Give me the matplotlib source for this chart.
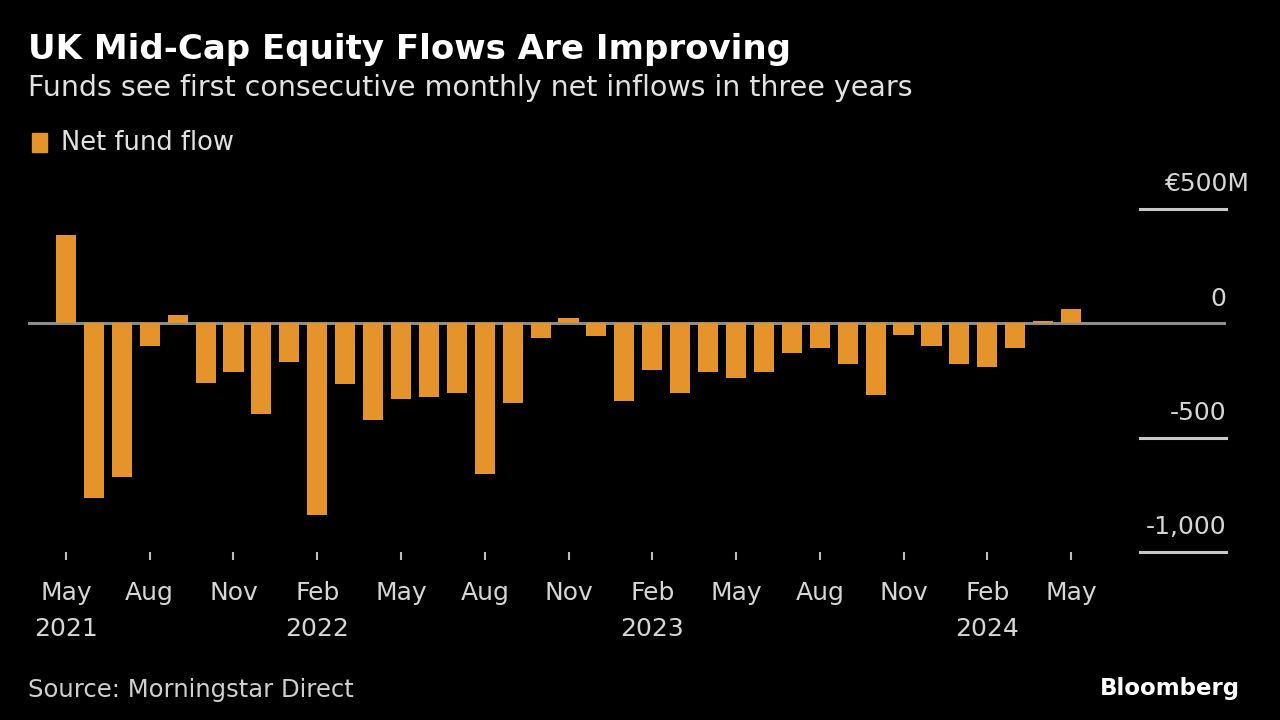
import matplotlib
matplotlib.use("Agg")
import matplotlib.pyplot as plt
import matplotlib.transforms as mtransforms

months = ["May 2021", "Jun 2021", "Jul 2021", "Aug 2021", "Sep 2021", "Oct 2021", "Nov 2021", "Dec 2021",
          "Jan 2022", "Feb 2022", "Mar 2022", "Apr 2022", "May 2022", "Jun 2022", "Jul 2022", "Aug 2022",
          "Sep 2022", "Oct 2022", "Nov 2022", "Dec 2022", "Jan 2023", "Feb 2023", "Mar 2023", "Apr 2023",
          "May 2023", "Jun 2023", "Jul 2023", "Aug 2023", "Sep 2023", "Oct 2023", "Nov 2023", "Dec 2023",
          "Jan 2024", "Feb 2024", "Mar 2024", "Apr 2024", "May 2024"]
net_flow = [385, -764, -673, -99, 38, -260, -215, -395,
            -168, -837, -265, -423, -331, -322, -306, -658,
            -348, -64, 22, -54, -341, -202, -303, -211,
            -241, -215, -132, -107, -176, -313, -51, -101,
            -178, -189, -107, 8, 61]
tick_idx = [0, 3, 6, 9, 12, 15, 18, 21, 24, 27, 30, 33, 36]
tick_labels = ["May\n2021", "Aug", "Nov", "Feb\n2022", "May", "Aug", "Nov", "Feb\n2023",
               "May", "Aug", "Nov", "Feb\n2024", "May"]
y_ticks = [500, 0, -500, -1000]
y_labels = ["€500M", "0", "-500", "-1,000"]

BG = "#000000"
BAR = "#E5942B"
plt.rcParams['font.family'] = ['DejaVu Sans']

fig = plt.figure(figsize=(12.8, 7.2), dpi=100, facecolor=BG)
W, H = 1280, 720
left, right, bottom_px, top_px = 28, 1226, 552, 186.1
ax = fig.add_axes([left / W, 1 - bottom_px / H, (right - left) / W, (bottom_px - top_px) / H])
ax.set_facecolor(BG)

x = list(range(len(months)))
ax.bar(x, net_flow, width=0.72, color=BAR, zorder=3)
ax.set_xlim(-1.36, 41.55)
ax.set_ylim(-1000, 600)

for s in ax.spines.values():
    s.set_visible(False)

# zero line across the plot
ax.axhline(0, color="#8c8c8c", lw=2.2, zorder=2)
# short gridline segments at right
trans = mtransforms.blended_transform_factory(ax.transAxes, ax.transData)
seg_x0 = (1140 - left) / (right - left)
for v, lab in zip(y_ticks, y_labels):
    if v != 0:
        ax.plot([seg_x0, 1.0], [v, v], transform=trans, color="#c8c8c8", lw=2.2, clip_on=False, zorder=2)
    xr = 1.0 if v != 500 else (1250 - left) / (right - left)
    ax.text(xr, v + 55, lab, transform=trans, ha="right", va="bottom", color="#d6d6d6",
            fontsize=18, clip_on=False)
ax.set_yticks([])

ax.set_xticks(tick_idx)
ax.set_xticklabels(tick_labels, color="#d6d6d6", fontsize=18, linespacing=1.6, va="top")
ax.tick_params(axis="x", length=6, width=1.5, color="#bdbdbd", pad=15)

fig.text(28 / W, 1 - 49 / H, "UK Mid-Cap Equity Flows Are Improving", color="white",
         fontsize=24.5, fontweight="bold", va="center", ha="left")
fig.text(28 / W, 1 - 88 / H, "Funds see first consecutive monthly net inflows in three years",
         color="#e2e2e2", fontsize=20.5, va="center", ha="left")
# legend
fig.patches.append(plt.Rectangle((32 / W, 1 - 152 / H), 15 / W, 19 / H, transform=fig.transFigure,
                                 color=BAR))
fig.text(61 / W, 1 - 143 / H, "Net fund flow", color="#e2e2e2", fontsize=18.5, va="center", ha="left")

fig.text(28 / W, 1 - 690 / H, "Source: Morningstar Direct", color="#cfcfcf", fontsize=17.5,
         va="center", ha="left")
fig.text(1240 / W, 1 - 688 / H, "Bloomberg", color="white", fontsize=16.5, fontweight="bold",
         va="center", ha="right")

fig.savefig("out.png", dpi=100, facecolor=BG)
